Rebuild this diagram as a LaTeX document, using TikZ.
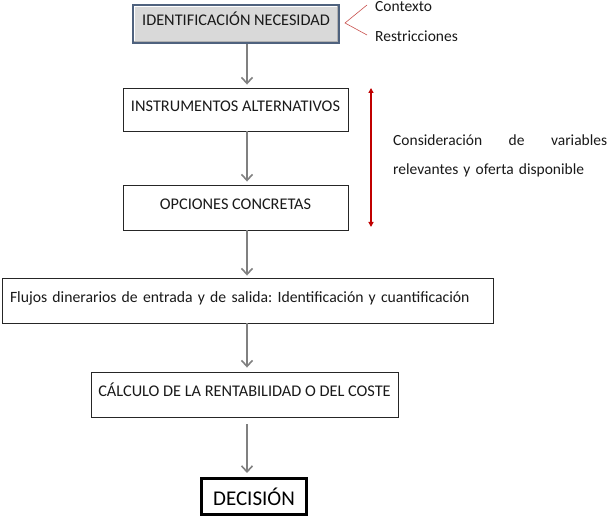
\documentclass[tikz,border=0pt]{standalone}
\usepackage{fontspec}
\setmainfont{Carlito}
\usetikzlibrary{arrows.meta}
\definecolor{bevelblue}{RGB}{79,98,126}
\definecolor{darkred}{RGB}{192,0,0}
\definecolor{softred}{RGB}{200,80,77}
\frenchspacing
\hyphenpenalty=10000
\begin{document}
\begin{tikzpicture}
[x=1pt,y=-1pt,
box/.style={draw=black!85,line width=0.9pt,inner sep=0pt,text=black!90,
            text height=11pt,text depth=7pt,
            font=\fontsize{16.3}{19}\selectfont},
flow/.style={draw=black!50,line width=1.6pt,
             -{Straight Barb[length=6pt,width=11pt]}},
spanarrow/.style={draw=darkred,line width=1.2pt,
              {Triangle[length=5pt,width=5pt]}-{Triangle[length=5pt,width=5pt]}},
note/.style={inner sep=0pt,text=black!90,font=\fontsize{15.5}{29}\selectfont}]
\useasboundingbox (0,0) rectangle (608,518);
\coordinate (axis) at (247,0);
% boxes
\node[box,fill=gray!30,draw=bevelblue,line width=1.4pt,
      minimum width=206pt,minimum height=38pt] (need) at (236,24)
  {IDENTIFICACIÓN NECESIDAD};
\draw[white,line width=1pt]
  ([xshift=2pt,yshift=2pt]need.south west) -- ([xshift=2pt,yshift=-2pt]need.north west)
  -- ([xshift=-2pt,yshift=-2pt]need.north east);
\draw[gray!60,line width=1pt]
  ([xshift=-2pt,yshift=-2pt]need.north east) -- ([xshift=-2pt,yshift=2pt]need.south east)
  -- ([xshift=2pt,yshift=2pt]need.south west);
\node[box,minimum width=225pt,minimum height=43pt] (inst) at (235.5,109.5)
  {INSTRUMENTOS ALTERNATIVOS};
\node[box,minimum width=225pt,minimum height=45pt] (opc) at (235.5,207.5)
  {OPCIONES CONCRETAS};
\node[box,minimum width=491pt,minimum height=45pt,font=\fontsize{15.7}{19}\selectfont,
      text width=475pt,inner xsep=8pt,align=left] (flujos) at (247.5,300.5)
  {\mbox{Flujos dinerarios de entrada y de salida: Identificación y cuantificación}};
\node[box,minimum width=307pt,minimum height=45pt] (calc) at (244.5,394.5)
  {CÁLCULO DE LA RENTABILIDAD O DEL COSTE};
\node[box,draw=black,line width=3pt,text=black,text height=,text depth=,
      font=\fontsize{21}{24}\selectfont,
      minimum width=105pt,minimum height=36pt] (dec) at (254,496.5)
  {DECISIÓN};
% connectors
\draw[flow,shorten >=3pt] (need.south -| axis) -- (inst.north -| axis);
\draw[flow,shorten >=3pt] (inst.south -| axis) -- (opc.north -| axis);
\draw[flow,shorten >=2pt] (opc.south -| axis) -- (flujos.north -| axis);
\draw[flow,shorten >=4pt] (flujos.south -| axis) -- (calc.north -| axis);
\draw[flow,shorten <=7pt,shorten >=4pt] (calc.south -| axis) -- (dec.north -| axis);
% side notes
\coordinate (c0) at (345,23);
\coordinate (c1) at (367,5);
\coordinate (c2) at (367,35);
\draw[softred,line width=0.6pt] (c1) -- (c0) -- (c2);
\node[note,anchor=west] (ctx) at (375,7) {Contexto};
\node[note,anchor=west] (restr) at (375,36) {Restricciones};
\coordinate (rtop) at (371,88);
\coordinate (rbot) at (371,227);
\draw[spanarrow] (rtop) -- (rbot);
\node[note,text width=214pt,align=left,anchor=west] (cons) at (393,155.5)
  {Consideración\hfill de\hfill variables\\relevantes y oferta disponible};
\end{tikzpicture}
\end{document}
